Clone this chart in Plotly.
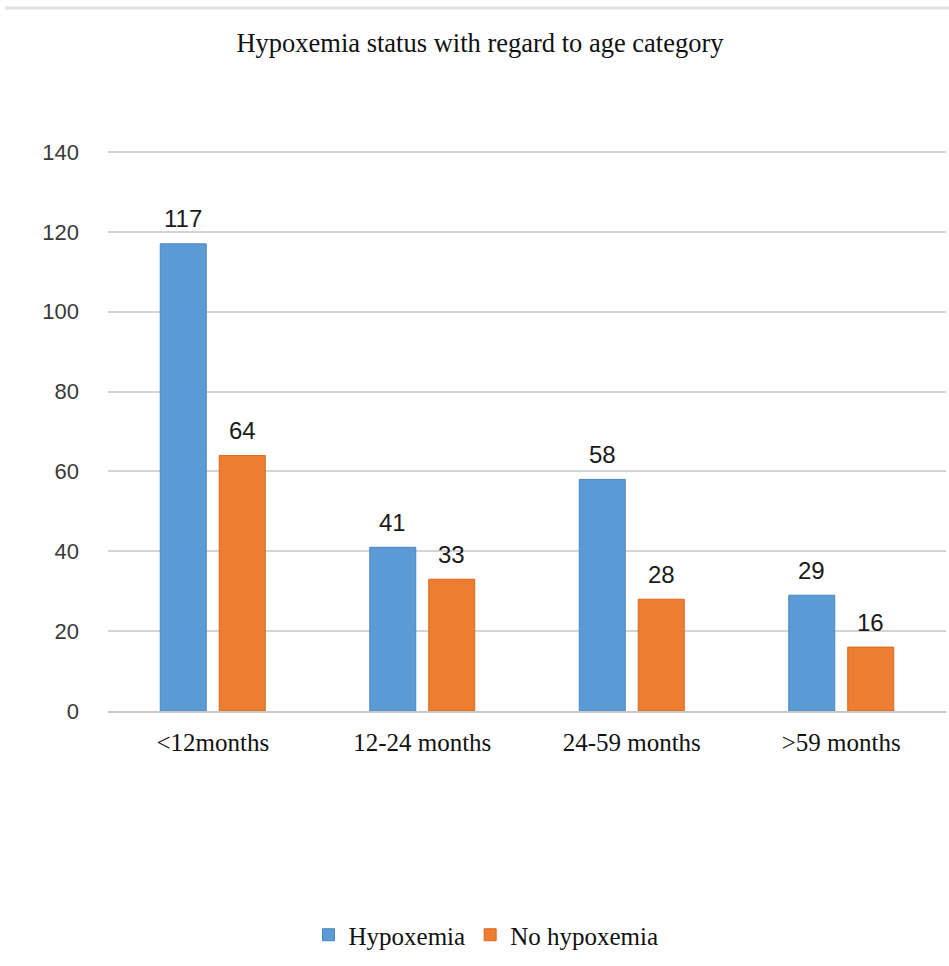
import plotly.graph_objects as go

categories = ["<12months", "12-24 months", "24-59 months", ">59 months"]
hypoxemia = [117, 41, 58, 29]
no_hypoxemia = [64, 33, 28, 16]
y_ticks = [0, 20, 40, 60, 80, 100, 120, 140]

W, H = 949, 966
L, R, T, B = 108, 3, 148, 255
Y_MAX = 141

series = [
    ("Hypoxemia", hypoxemia, "#5B9BD5", "#4A86BE"),
    ("No hypoxemia", no_hypoxemia, "#ED7D31", "#D46A22"),
]

fig = go.Figure()
for name, vals, fill, edge in series:
    fig.add_trace(go.Bar(
        x=categories, y=vals, name=name,
        marker=dict(color=fill, line=dict(color=edge, width=1)),
        hoverinfo="x+y+name",
    ))

# value labels above each bar (group slot is 59 px wide, two bars per group)
label_font = dict(family="Liberation Sans, Arial", size=24, color="#1a1a1a")
annotations = []
for i, (name, vals, fill, edge) in enumerate(series):
    shift = -29.5 if i == 0 else 29.5
    for cat, v in zip(categories, vals):
        annotations.append(dict(
            x=cat, y=v, xref="x", yref="y", text=str(v),
            showarrow=False, xshift=shift, yshift=25,
            xanchor="center", yanchor="middle", font=label_font,
        ))

plot_h = H - T - B
plot_w = W - L - R

fig.update_layout(
    width=W, height=H,
    margin=dict(l=L, r=R, t=T, b=B, pad=0),
    paper_bgcolor="white", plot_bgcolor="white",
    barmode="group", bargap=0.437, bargroupgap=0.22,
    title=dict(
        text="Hypoxemia status with regard to age category",
        font=dict(family="Liberation Serif, Times New Roman", size=26.5, color="#111111"),
        x=480 / W, xanchor="center", xref="container",
        y=1 - 43 / H, yanchor="middle", yref="container",
    ),
    xaxis=dict(
        showline=True, linecolor="#c8c8c8", linewidth=1.5,
        ticks="", showgrid=False,
        tickfont=dict(family="Liberation Serif, Times New Roman", size=25, color="#111111"),
        ticklabelstandoff=8,
    ),
    yaxis=dict(
        range=[0, Y_MAX], tickvals=y_ticks, ticktext=[str(v) for v in y_ticks],
        showgrid=True, gridcolor="#d4d4d4", gridwidth=1.5,
        zeroline=False, showline=False, ticks="",
        tickfont=dict(family="Liberation Sans, Arial", size=22, color="#3a3a3a"),
        ticklabelstandoff=28,
    ),
    legend=dict(
        orientation="h", xref="container", yref="container",
        x=486 / W, xanchor="center", y=1 - 935 / H, yanchor="middle",
        font=dict(family="Liberation Serif, Times New Roman", size=25, color="#111111"),
        itemwidth=30, traceorder="normal",
    ),
    showlegend=True,
    annotations=annotations,
    shapes=[dict(
        type="line", xref="paper", yref="paper",
        x0=(5 - L) / plot_w, x1=(W - L) / plot_w,
        y0=1 + (T - 8) / plot_h, y1=1 + (T - 8) / plot_h,
        line=dict(color="#e2e2e2", width=3),
    )],
)

fig.write_html("out.html")
